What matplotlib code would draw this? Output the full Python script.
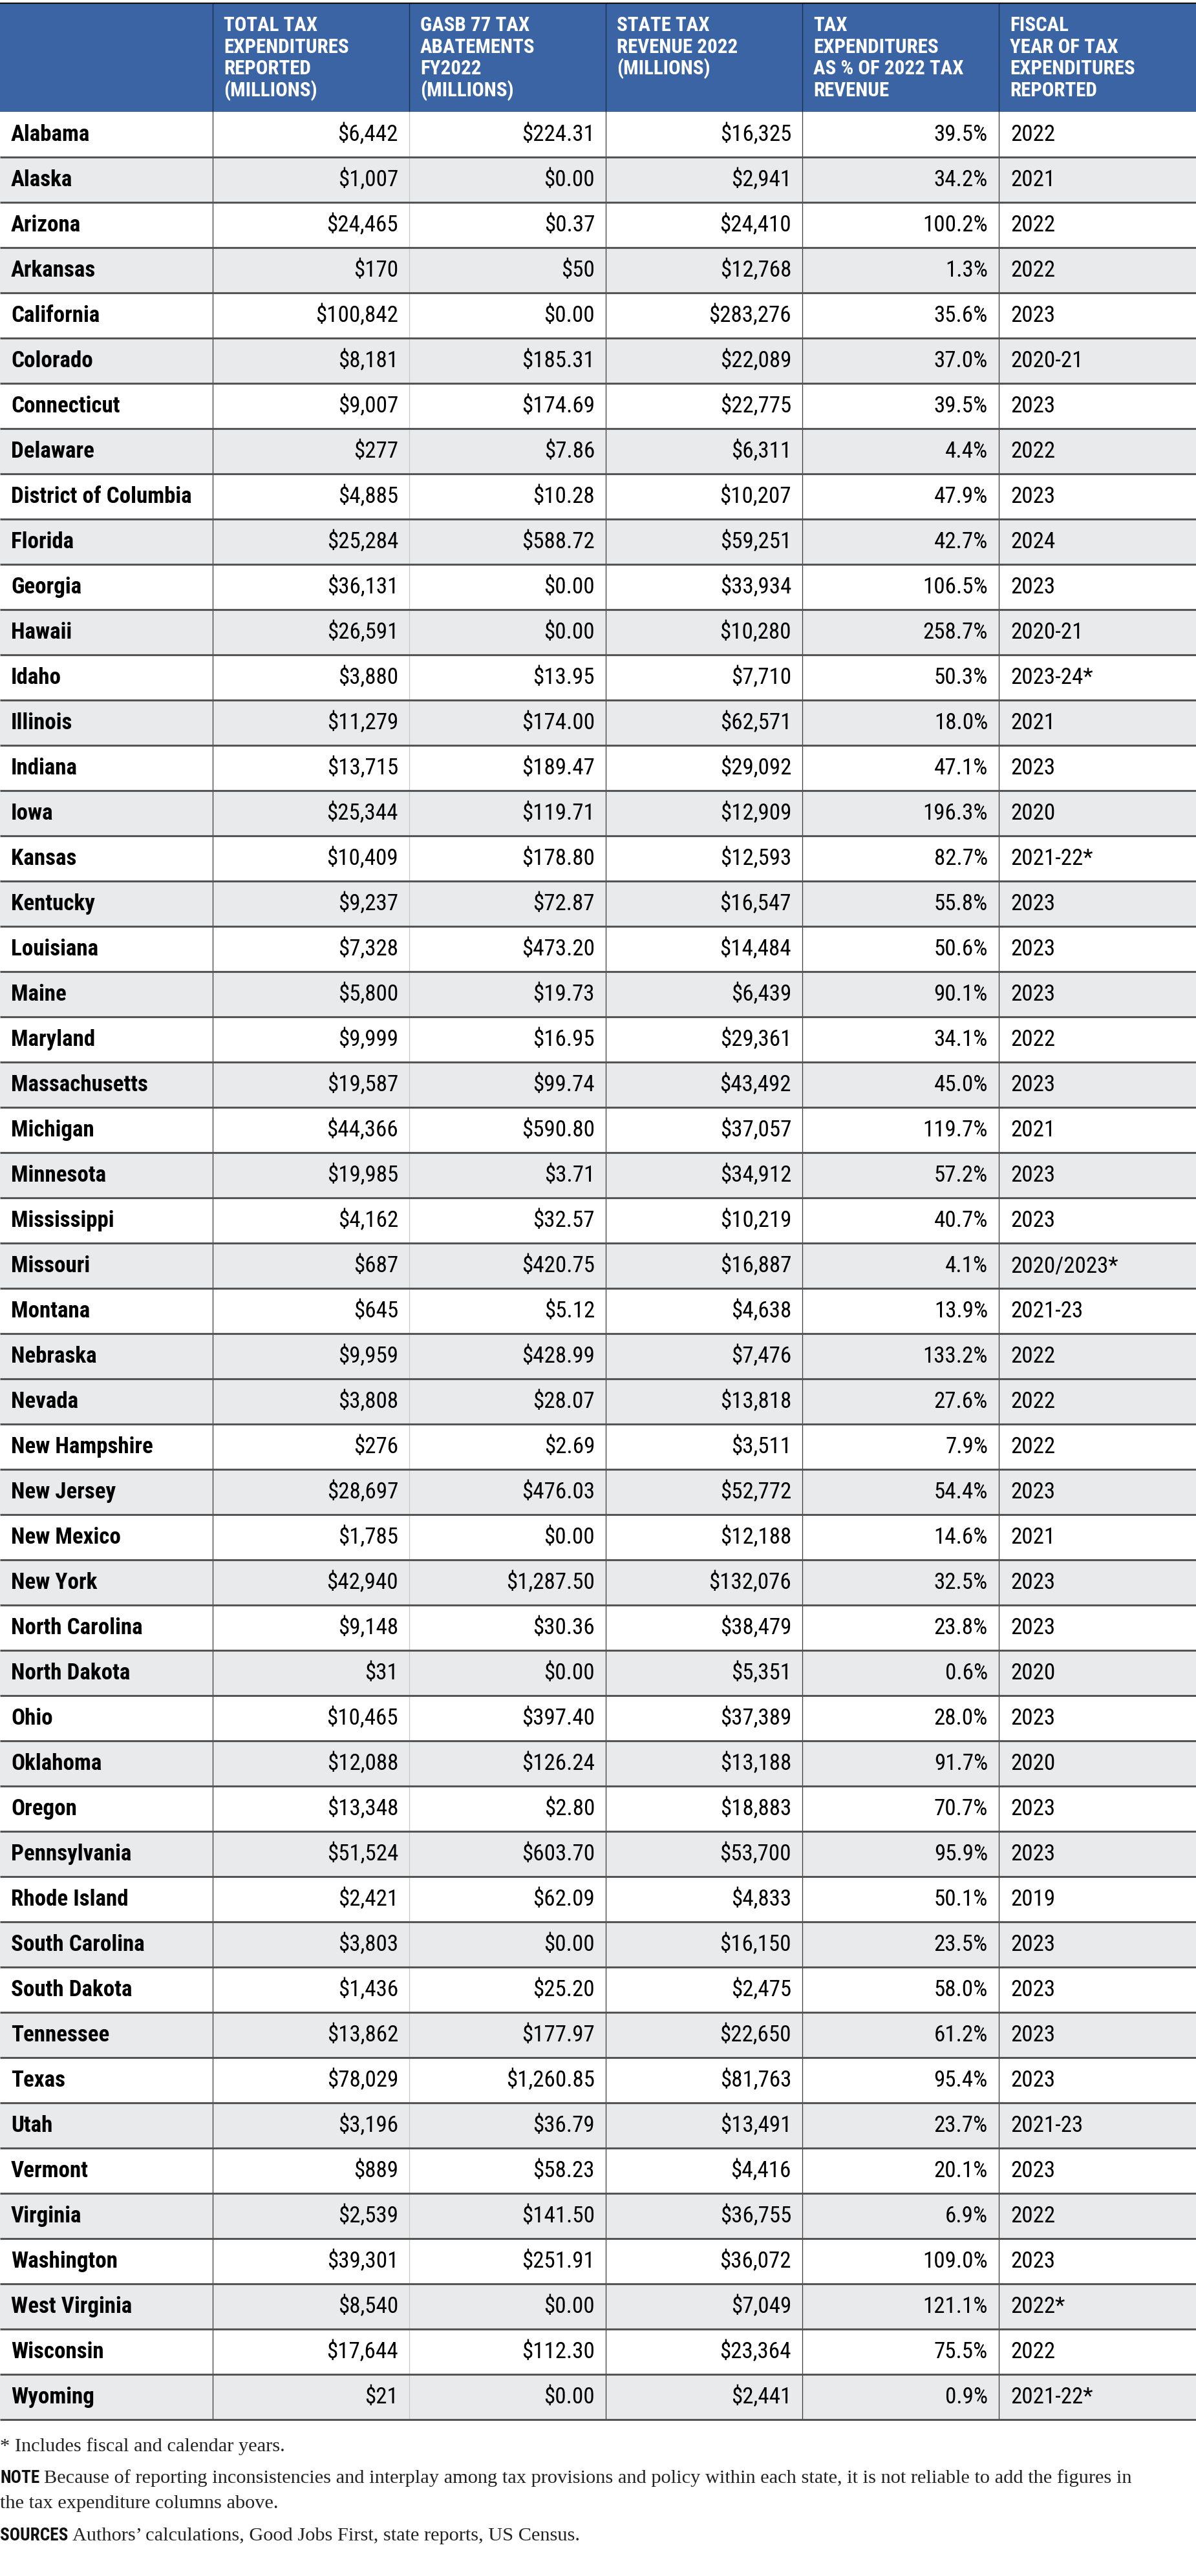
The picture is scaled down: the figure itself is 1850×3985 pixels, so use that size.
import matplotlib
matplotlib.use("Agg")
import matplotlib.pyplot as plt
from matplotlib import font_manager
from matplotlib.patches import Rectangle


# =========================
# DATA
# =========================

states = [
    "Alabama", "Alaska", "Arizona", "Arkansas", "California", "Colorado",
    "Connecticut", "Delaware", "District of Columbia", "Florida", "Georgia",
    "Hawaii", "Idaho", "Illinois", "Indiana", "Iowa", "Kansas", "Kentucky",
    "Louisiana", "Maine", "Maryland", "Massachusetts", "Michigan",
    "Minnesota", "Mississippi", "Missouri", "Montana", "Nebraska", "Nevada",
    "New Hampshire", "New Jersey", "New Mexico", "New York",
    "North Carolina", "North Dakota", "Ohio", "Oklahoma", "Oregon",
    "Pennsylvania", "Rhode Island", "South Carolina", "South Dakota",
    "Tennessee", "Texas", "Utah", "Vermont", "Virginia", "Washington",
    "West Virginia", "Wisconsin", "Wyoming",
]

total_te = [
    6442, 1007, 24465, 170, 100842, 8181, 9007, 277, 4885, 25284, 36131,
    26591, 3880, 11279, 13715, 25344, 10409, 9237, 7328, 5800, 9999, 19587,
    44366, 19985, 4162, 687, 645, 9959, 3808, 276, 28697, 1785, 42940, 9148,
    31, 10465, 12088, 13348, 51524, 2421, 3803, 1436, 13862, 78029, 3196,
    889, 2539, 39301, 8540, 17644, 21,
]

# Arkansas is reported without cents ($50), kept as int
gasb_abatements = [
    224.31, 0.00, 0.37, 50, 0.00, 185.31, 174.69, 7.86, 10.28, 588.72, 0.00,
    0.00, 13.95, 174.00, 189.47, 119.71, 178.80, 72.87, 473.20, 19.73, 16.95,
    99.74, 590.80, 3.71, 32.57, 420.75, 5.12, 428.99, 28.07, 2.69, 476.03,
    0.00, 1287.50, 30.36, 0.00, 397.40, 126.24, 2.80, 603.70, 62.09, 0.00,
    25.20, 177.97, 1260.85, 36.79, 58.23, 141.50, 251.91, 0.00, 112.30, 0.00,
]

state_revenue = [
    16325, 2941, 24410, 12768, 283276, 22089, 22775, 6311, 10207, 59251,
    33934, 10280, 7710, 62571, 29092, 12909, 12593, 16547, 14484, 6439,
    29361, 43492, 37057, 34912, 10219, 16887, 4638, 7476, 13818, 3511,
    52772, 12188, 132076, 38479, 5351, 37389, 13188, 18883, 53700, 4833,
    16150, 2475, 22650, 81763, 13491, 4416, 36755, 36072, 7049, 23364, 2441,
]

te_pct = [
    39.5, 34.2, 100.2, 1.3, 35.6, 37.0, 39.5, 4.4, 47.9, 42.7, 106.5, 258.7,
    50.3, 18.0, 47.1, 196.3, 82.7, 55.8, 50.6, 90.1, 34.1, 45.0, 119.7, 57.2,
    40.7, 4.1, 13.9, 133.2, 27.6, 7.9, 54.4, 14.6, 32.5, 23.8, 0.6, 28.0,
    91.7, 70.7, 95.9, 50.1, 23.5, 58.0, 61.2, 95.4, 23.7, 20.1, 6.9, 109.0,
    121.1, 75.5, 0.9,
]

fiscal_year = [
    "2022", "2021", "2022", "2022", "2023", "2020-21", "2023", "2022", "2023",
    "2024", "2023", "2020-21", "2023-24*", "2021", "2023", "2020", "2021-22*",
    "2023", "2023", "2023", "2022", "2023", "2021", "2023", "2023",
    "2020/2023*", "2021-23", "2022", "2022", "2022", "2023", "2021", "2023",
    "2023", "2020", "2023", "2020", "2023", "2023", "2019", "2023", "2023",
    "2023", "2023", "2021-23", "2023", "2022", "2023", "2022*", "2022",
    "2021-22*",
]

header_lines = [
    ["TOTAL TAX", "EXPENDITURES", "REPORTED", "(MILLIONS)"],
    ["GASB 77 TAX", "ABATEMENTS", "FY2022", "(MILLIONS)"],
    ["STATE TAX", "REVENUE 2022", "(MILLIONS)"],
    ["TAX", "EXPENDITURES", "AS % OF 2022 TAX", "REVENUE"],
    ["FISCAL", "YEAR OF TAX", "EXPENDITURES", "REPORTED"],
]

footnote = "* Includes fiscal and calendar years."

note_lines = [
    "Because of reporting inconsistencies and interplay among tax "
    "provisions and policy within each state, it is not reliable to add "
    "the figures in",
    "the tax expenditure columns above.",
]

sources_text = (
    "Authors\u2019 calculations, Good Jobs First, state reports, US Census."
)


# =========================
# FONTS
# =========================

fm = font_manager.fontManager

available = {f.name for f in fm.ttflist}


def has_condensed(name):

    return any(
        f.name == name and f.stretch == "condensed"
        for f in fm.ttflist
    )


SANS = None

for cand in [
    "Liberation Sans Narrow",
    "Roboto Condensed",
    "Noto Sans Condensed",
    "Open Sans Condensed",
]:

    if cand in available:

        SANS = dict(family=cand)

        break

if SANS is None:

    for cand in ["Noto Sans", "DejaVu Sans"]:

        if has_condensed(cand):

            SANS = dict(family=cand, stretch="condensed")

            break

narrow = SANS is not None

if SANS is None:

    SANS = dict(family="Liberation Sans")

SERIF = dict(family="Liberation Serif")

# size factor if only a normal width face is present
k = 1.0 if narrow else 0.86


# =========================
# LAYOUT (pixels)
# =========================

W, H = 1850, 3985

header_top = 5
header_bottom = 173
row_h = 70

col_lines = [329, 633, 937, 1241, 1545]

value_right = [616, 920, 1224, 1528]

blue = "#3a64a4"
shade = "#e9eaec"
rule = "#555555"


def money(v):

    if isinstance(v, int):

        return f"${v:,}"

    return f"${v:,.2f}"


# =========================
# FIGURE
# =========================

fig = plt.figure(figsize=(W / 100, H / 100), dpi=100)

ax = fig.add_axes([0, 0, 1, 1])

ax.set_xlim(0, W)

ax.set_ylim(H, 0)

ax.axis("off")


# =========================
# HEADER
# =========================

ax.add_patch(Rectangle(
    (0, header_top), W, header_bottom - header_top,
    facecolor=blue, edgecolor="none", zorder=1
))

ax.plot([0, W], [header_top, header_top],
        color="#111111", lw=1.6, zorder=3)

for j, lines in enumerate(header_lines):

    for i, line in enumerate(lines):

        ax.text(
            col_lines[j] + 17, 48 + 33.5 * i, line,
            color="white", fontsize=22.3 * k, fontweight="bold",
            ha="left", va="baseline", zorder=4, **SANS
        )


# =========================
# BODY ROWS
# =========================

n = len(states)

for i in range(n):

    top = header_bottom + i * row_h

    gray = (i % 2 == 1) if i < 28 else (i % 2 == 0)

    if gray:

        ax.add_patch(Rectangle(
            (0, top), W, row_h,
            facecolor=shade, edgecolor="none", zorder=1
        ))

    base = top + 45

    ax.text(
        17, base, states[i],
        fontsize=25.2 * k, fontweight="bold", color="black",
        ha="left", va="baseline", zorder=4, **SANS
    )

    cells = [
        money(total_te[i]),
        money(gasb_abatements[i]),
        money(state_revenue[i]),
        f"{te_pct[i]:.1f}%",
    ]

    for j, cell in enumerate(cells):

        ax.text(
            value_right[j], base, cell,
            fontsize=25.2 * k, color="black",
            ha="right", va="baseline", zorder=4, **SANS
        )

    ax.text(
        col_lines[4] + 18, base, fiscal_year[i],
        fontsize=25.2 * k, color="black",
        ha="left", va="baseline", zorder=4, **SANS
    )

    # row rule below
    ax.plot([0, W], [top + row_h, top + row_h],
            color=rule, lw=2.2, zorder=3, solid_capstyle="butt")

body_bottom = header_bottom + n * row_h


# =========================
# COLUMN LINES
# =========================

for j, x in enumerate(col_lines):

    body_color = "#c9c9c9" if j == 1 else "#3a3a3a"

    ax.plot([x, x], [header_top, header_bottom],
            color="#1c2a44", lw=0.9, zorder=2)

    ax.plot([x, x], [header_bottom, body_bottom],
            color=body_color, lw=0.9, zorder=2)


# =========================
# FOOTER
# =========================

fig.canvas.draw()

renderer = fig.canvas.get_renderer()

foot_size = 21.9 * k

ax.text(
    0, 3792, footnote,
    fontsize=foot_size, color="#222222",
    ha="left", va="baseline", **SERIF
)


def label_then_text(label, text, y):

    t = ax.text(
        0, y, label,
        fontsize=19.6 * k, fontweight="bold", color="#111111",
        ha="left", va="baseline", **SANS
    )

    bb = t.get_window_extent(renderer=renderer)

    ax.text(
        bb.x1 + 7, y, text,
        fontsize=foot_size, color="#222222",
        ha="left", va="baseline", **SERIF
    )


label_then_text("NOTE", note_lines[0], 3841)

ax.text(
    0, 3880, note_lines[1],
    fontsize=foot_size, color="#222222",
    ha="left", va="baseline", **SERIF
)

label_then_text("SOURCES", sources_text, 3930)


# =========================
# SAVE
# =========================

fig.savefig("out.png", dpi=100, facecolor="white")

plt.close(fig)
